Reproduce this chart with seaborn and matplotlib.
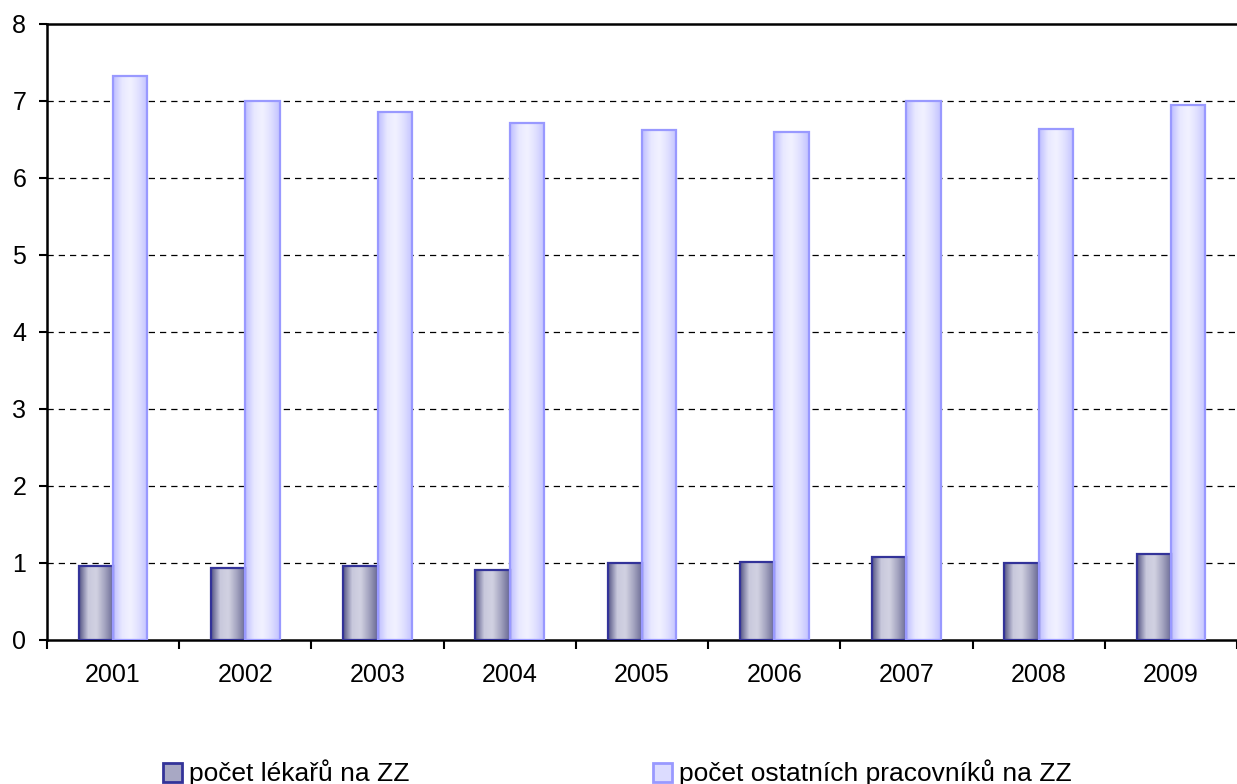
import numpy as np
import pandas as pd
import matplotlib
matplotlib.use('Agg')
import matplotlib.pyplot as plt
import seaborn as sns
from matplotlib.patches import Patch
from matplotlib.colors import LinearSegmentedColormap

# data
years = ['2001', '2002', '2003', '2004', '2005', '2006', '2007', '2008', '2009']
lekari = [0.96, 0.94, 0.96, 0.91, 1.00, 1.01, 1.08, 1.00, 1.12]
ostatni = [7.32, 7.00, 6.86, 6.71, 6.62, 6.60, 7.00, 6.64, 6.95]
series = ['počet lékařů na ZZ', 'počet ostatních pracovníků na ZZ']

df = pd.DataFrame({
    'rok': years * 2,
    'hodnota': lekari + ostatni,
    'serie': [series[0]] * len(years) + [series[1]] * len(years),
})

sns.set_style('white')
plt.rcParams['font.family'] = ['Liberation Sans', 'DejaVu Sans']
plt.rcParams['text.color'] = 'black'
plt.rcParams['xtick.color'] = 'black'
plt.rcParams['ytick.color'] = 'black'

fig = plt.figure(figsize=(12.37, 7.84), dpi=100)
ax = fig.add_axes([0.038, 0.1837, 0.962, 0.7857])

edge_cols = ['#333399', '#9999ff']
mid_cols = ['#a8a8c4', '#dcdcff']
sns.barplot(data=df, x='rok', y='hodnota', hue='serie', hue_order=series,
            palette=mid_cols, width=0.52, ax=ax, legend=False, saturation=1)

# gradient fills: dark edges, light centre
grads = [
    LinearSegmentedColormap.from_list('g1', ['#5c5c8a', '#c8c8dc', '#d2d2e2', '#a4a4c0', '#6c6c96']),
    LinearSegmentedColormap.from_list('g2', ['#c0c0ff', '#e8e8ff', '#f2f2ff', '#e0e0ff', '#c4c4ff']),
]
grad = np.linspace(0, 1, 24).reshape(1, -1)
n = len(years)
for i, bar in enumerate(ax.patches[:2 * n]):
    s = i // n
    bar.set_edgecolor(edge_cols[s])
    bar.set_linewidth(1.6)
    x0, y0 = bar.get_x(), bar.get_y()
    w, h = bar.get_width(), bar.get_height()
    im = ax.imshow(grad, cmap=grads[s], aspect='auto', interpolation='bilinear',
                   extent=[x0, x0 + w, y0, y0 + h], zorder=2.5)
    im.set_clip_path(bar)
    bar.set_facecolor('none')
    bar.set_zorder(3)

ax.set_xlim(-0.5, n - 0.5)
ax.set_ylim(0, 8)
ax.set_yticks(range(0, 9))
ax.set_xticks(np.arange(-0.5, n, 1), minor=True)
ax.tick_params(axis='x', which='major', length=0, pad=16.5, labelsize=18)
ax.tick_params(axis='x', which='minor', length=6.5, width=1.5, direction='out',
               bottom=True)
ax.tick_params(axis='y', length=6, width=1.5, direction='out', left=True,
               labelsize=18, pad=9)
ax.set_xlabel('')
ax.set_ylabel('')
for y in range(1, 8):
    ax.axhline(y, color='black', lw=0.9, ls=(0, (5, 4)), zorder=1)
for side in ['left', 'bottom', 'top']:
    ax.spines[side].set_visible(True)
    ax.spines[side].set_color('black')
    ax.spines[side].set_linewidth(1.8)
ax.spines['right'].set_visible(False)

handles = [Patch(facecolor=mid_cols[0], edgecolor=edge_cols[0], lw=2),
           Patch(facecolor=mid_cols[1], edgecolor=edge_cols[1], lw=2)]
fig.legend(handles, series, loc='center left', bbox_to_anchor=(0.132, 0.014),
           ncol=2, frameon=False, fontsize=19, handlelength=0.72, handleheight=0.72,
           handletextpad=0.27, columnspacing=9.2, borderaxespad=0, borderpad=0)

fig.savefig('out.png', dpi=100)
